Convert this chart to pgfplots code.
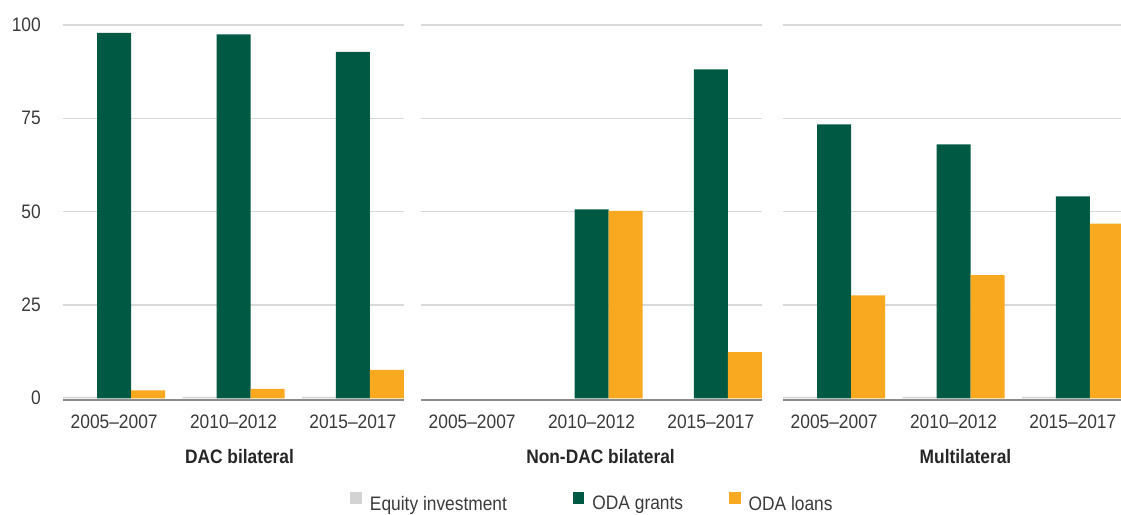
\documentclass[border=0pt]{standalone}
\usepackage{fontspec}
\setmainfont{Liberation Sans}[FakeStretch=0.89]
\usepackage{pgfplots}
\pgfplotsset{compat=1.18}
\definecolor{eq}{HTML}{D3D3D3}
\definecolor{grant}{HTML}{005A43}
\definecolor{loan}{HTML}{F9A91F}
\definecolor{gridc}{HTML}{D9D9D9}
\definecolor{txt}{HTML}{3A3A3A}
\definecolor{basec}{HTML}{8C8C8C}
\newcommand\tfont{\fontsize{19.5pt}{23pt}\selectfont}
\newcommand\bfont{\fontsize{19.5pt}{23pt}\selectfont\bfseries}
\pgfplotsset{panel/.style={
  scale only axis, width=341pt, height=376.3pt,
  xmin=-0.4286, xmax=2.4286, ymin=-0.8, ymax=100,
  ybar=0pt, bar width=34pt,
  axis x line*=bottom, axis y line*=left,
  y axis line style={draw=none},
  x axis line style={draw=none},
  major tick length=0pt,
  xtick={0,1,2},
  xticklabels={2005--2007,2010--2012,2015--2017},
  ytick={25,50,75,100},
  extra y ticks={-0.5},
  extra y tick labels={0},
  extra y tick style={grid style={basec, line width=2.5pt}, yticklabel style={yshift=1.9pt}},
  ymajorgrids, grid style={gridc, line width=1.5pt},
  xticklabel style={font=\tfont, text=txt, inner sep=0pt, anchor=north, yshift=-13.7pt},
  yticklabel style={font=\tfont, text=txt, inner sep=0pt, anchor=east, xshift=-22pt},
  /pgf/number format/assume math mode=true,
  xlabel style={at={(axis description cs:0.5,0)}, anchor=north, inner sep=0pt, yshift=-47.5pt, font=\bfont, text=black!85},
  every axis plot/.append style={draw=none},
  legend image code/.code={\fill[#1] (0pt,0pt) rectangle (11.5pt,11.5pt);},
}}
\begin{document}
\begin{tikzpicture}
\begin{axis}[panel, at={(63pt,112.7pt)}, anchor=south west, xlabel={DAC bilateral}, xlabel style={xshift=6pt}]
\addplot[fill=eq, bar shift=-34pt] coordinates {(0,0.4) (1,0.4) (2,0.4)};
\addplot[fill=grant, bar shift=0pt] coordinates {(0,97.9) (1,97.5) (2,92.8)};
\addplot[fill=loan, bar shift=34pt] coordinates {(0,2.1) (1,2.5) (2,7.6)};
\end{axis}
\begin{axis}[panel, at={(421pt,112.7pt)}, anchor=south west, yticklabels={}, extra y tick labels={}, xlabel={Non-DAC bilateral}, xlabel style={xshift=9pt},
  legend style={at={(0.5,-0.270)}, anchor=center, xshift=1pt, draw=none, fill=none, font=\tfont, text=txt,
    legend columns=3, /tikz/every odd column/.append style={column sep=6pt},
    /tikz/column 2/.style={column sep=64pt},
    /tikz/column 4/.style={column sep=44pt}}]
\addplot[fill=grant, bar shift=0pt, forget plot] coordinates {(1,50.6) (2,88.1)};
\addplot[fill=loan, bar shift=34pt, forget plot] coordinates {(1,50.2) (2,12.4)};
\addlegendimage{fill=eq, draw=none}
\addlegendimage{fill=grant, draw=none}
\addlegendimage{fill=loan, draw=none}
\legend{Equity investment, ODA grants, ODA loans}
\end{axis}
\begin{axis}[panel, at={(783pt,112.7pt)}, anchor=south west, yticklabels={}, extra y tick labels={}, xlabel={Multilateral}, xlabel style={xshift=12pt}]
\addplot[fill=eq, bar shift=-34pt] coordinates {(0,0.4) (1,0.4) (2,0.4)};
\addplot[fill=grant, bar shift=0pt] coordinates {(0,73.4) (1,68.0) (2,54.1)};
\addplot[fill=loan, bar shift=34pt] coordinates {(0,27.6) (1,33.0) (2,46.8)};
\end{axis}
\pgfresetboundingbox
\useasboundingbox (0,0) rectangle (1121pt,514pt);
\end{tikzpicture}
\end{document}
